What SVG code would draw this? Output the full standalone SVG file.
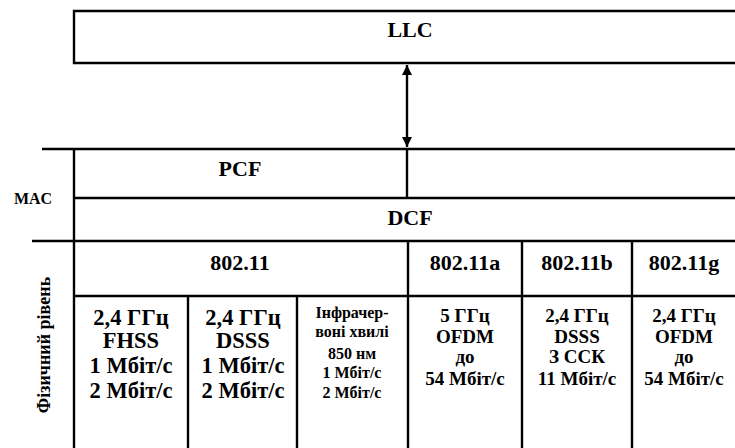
<svg xmlns="http://www.w3.org/2000/svg" width="735" height="448" viewBox="0 0 735 448" font-family="'Liberation Serif', 'Times New Roman', 'DejaVu Serif', serif">
<style>
.ln{stroke:#000;stroke-width:2.4;fill:none}
text{font-family:'Liberation Serif','Times New Roman','DejaVu Serif',serif;font-weight:bold;fill:#000;text-anchor:middle}
.h{font-size:22px}
.big{font-size:22.5px}
.mid{font-size:19px}
.sm{font-size:16px}
.lab{font-size:16px}
.vt{font-size:18px}
</style>
<defs>
<marker id="ah" viewBox="0 0 10 10" refX="10" refY="5" markerWidth="10" markerHeight="12" markerUnits="userSpaceOnUse" orient="auto-start-reverse">
<path d="M0,0 L10,5 L0,10 z" fill="#000"/>
</marker>
</defs>
<rect width="735" height="448" fill="#fff"/>
<g id="llc">
<path class="ln" d="M740,11 H74 V63 H740"/>
<text class="h" x="410" y="37">LLC</text>
</g>
<g id="mac">
<path class="ln" d="M42,149 H740 M74,198 H740 M32,241 H740 M74,149 V448"/>
<text class="lab" x="33" y="204">MAC</text>
</g>
<g id="pcf">
<path class="ln" d="M407,149 V198"/>
<text class="h" x="240" y="176">PCF</text>
</g>
<g id="dcf">
<text class="h" x="410" y="225">DCF</text>
</g>
<g id="phy">
<path class="ln" d="M74,296 H740 M408,241 V448 M522,241 V448 M632,241 V448 M188,296 V448 M297,296 V448"/>
<text class="vt" transform="translate(50,345) rotate(-90)" x="0" y="0">Фізичний рівень</text>
</g>
<g id="h80211"><text class="h" x="240" y="270">802.11</text></g>
<g id="h80211a"><text class="h" x="465" y="270">802.11a</text></g>
<g id="h80211b"><text class="h" x="577" y="270">802.11b</text></g>
<g id="h80211g"><text class="h" x="684" y="270">802.11g</text></g>
<g id="fhss">
<text class="big" x="131" y="325">2,4 ГГц</text>
<text class="big" x="131" y="348">FHSS</text>
<text class="big" x="131" y="373">1 Мбіт/с</text>
<text class="big" x="131" y="398">2 Мбіт/с</text>
</g>
<g id="dsss">
<text class="big" x="243" y="325">2,4 ГГц</text>
<text class="big" x="243" y="348">DSSS</text>
<text class="big" x="243" y="373">1 Мбіт/с</text>
<text class="big" x="243" y="398">2 Мбіт/с</text>
</g>
<g id="ir">
<text class="sm" x="352" y="318">Інфрачер-</text>
<text class="sm" x="352" y="337">воні хвилі</text>
<text class="sm" x="352" y="359">850 нм</text>
<text class="sm" x="352" y="378">1 Мбіт/с</text>
<text class="sm" x="352" y="398">2 Мбіт/с</text>
</g>
<g id="a">
<text class="mid" x="465" y="322">5 ГГц</text>
<text class="mid" x="465" y="343">OFDM</text>
<text class="mid" x="465" y="363">до</text>
<text class="mid" x="465" y="385">54 Мбіт/с</text>
</g>
<g id="b">
<text class="mid" x="577" y="322">2,4 ГГц</text>
<text class="mid" x="577" y="343">DSSS</text>
<text class="mid" x="577" y="363">З ССК</text>
<text class="mid" x="577" y="385">11 Мбіт/с</text>
</g>
<g id="g">
<text class="mid" x="684" y="322">2,4 ГГц</text>
<text class="mid" x="684" y="343">OFDM</text>
<text class="mid" x="684" y="363">до</text>
<text class="mid" x="684" y="385">54 Мбіт/с</text>
</g>
<g id="connectors">
<line class="ln" x1="407" y1="65" x2="407" y2="147" marker-start="url(#ah)" marker-end="url(#ah)"/>
</g>
</svg>
